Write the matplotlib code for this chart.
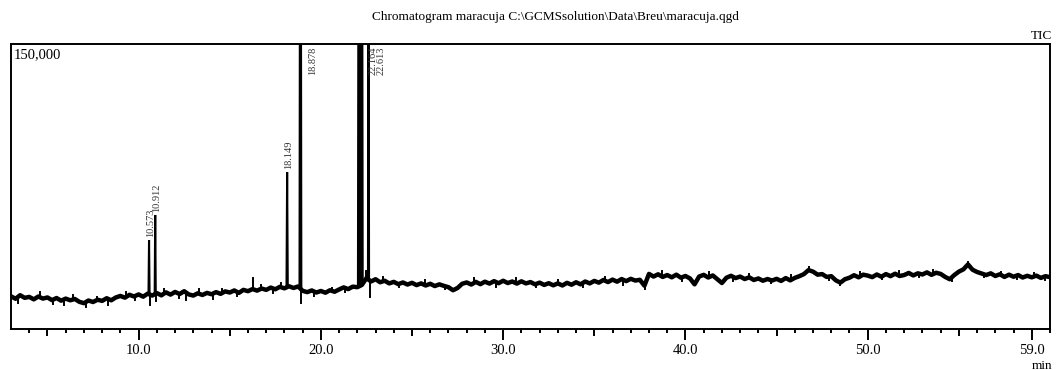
import matplotlib
matplotlib.use('Agg')
import matplotlib.pyplot as plt
import numpy as np

# baseline of the TIC trace, sampled every 0.25 min from 3.00 to 60.00 (x1000 counts)
t_start = 3.0
t_step = 0.25
baseline = [
    17.2, 15.9, 17.8, 16.4,   # 3
    16.9, 15.6, 17.1, 16.0,   # 4
    16.6, 15.2, 16.3, 14.9,   # 5
    16.0, 15.1, 15.8, 14.3,   # 6
    13.6, 15.0, 14.2, 15.4,   # 7
    14.8, 16.2, 15.1, 16.6,   # 8
    17.4, 16.5, 18.0, 17.1,   # 9
    18.2, 17.0, 18.6, 17.6,   # 10
    18.9, 17.7, 19.3, 18.1,   # 11
    19.5, 18.4, 19.9, 18.2,   # 12
    17.6, 18.8, 17.9, 19.0,   # 13
    18.3, 19.4, 18.5, 19.8,   # 14
    19.2, 20.3, 19.0, 20.6,   # 15
    19.9, 21.0, 20.2, 21.3,   # 16
    20.6, 21.8, 20.9, 22.2,   # 17
    21.4, 22.5, 21.6, 22.4,   # 18
    20.1, 19.4, 20.3, 19.2,   # 19
    20.0, 19.1, 20.4, 19.6,   # 20
    20.8, 21.9, 21.0, 22.3,   # 21
    22.0, 23.2, 26.8, 25.0,   # 22
    26.2, 24.6, 25.4, 24.0,   # 23
    24.8, 23.6, 24.5, 23.4,   # 24
    24.3, 23.1, 24.0, 22.9,   # 25
    23.8, 22.6, 23.5, 22.7,   # 26
    22.0, 20.4, 21.6, 23.8,   # 27
    24.5, 23.4, 24.8, 23.6,   # 28
    24.9, 23.9, 25.2, 24.1,   # 29
    25.4, 24.2, 25.0, 23.9,   # 30
    25.1, 24.0, 24.7, 23.5,   # 31
    24.4, 23.2, 24.1, 23.0,   # 32
    24.0, 22.9, 24.3, 23.3,   # 33
    24.6, 23.5, 25.0, 24.0,   # 34
    25.3, 24.4, 25.8, 24.7,   # 35
    26.0, 24.9, 26.3, 25.2,   # 36
    26.4, 25.5, 25.9, 22.8,   # 37
    29.0, 27.6, 28.8, 27.4,   # 38
    28.4, 27.2, 28.6, 27.0,   # 39
    27.9, 26.6, 23.5, 27.6,   # 40
    28.5, 27.1, 28.2, 26.2,   # 41
    24.2, 27.0, 28.0, 26.8,   # 42
    27.6, 26.3, 27.2, 25.8,   # 43
    26.6, 25.4, 26.3, 25.5,   # 44
    26.4, 25.3, 26.8, 25.6,   # 45
    26.9, 27.8, 28.9, 31.0,   # 46
    30.2, 28.6, 28.9, 27.4,   # 47
    27.8, 25.6, 24.4, 26.2,   # 48
    27.0, 28.3, 27.2, 28.6,   # 49
    28.1, 27.3, 28.7, 27.5,   # 50
    28.9, 27.8, 29.1, 27.9,   # 51
    28.4, 29.5, 28.2, 29.3,   # 52
    28.7, 29.8, 28.5, 29.6,   # 53
    29.0, 27.4, 26.2, 28.4,   # 54
    30.2, 31.4, 34.0, 31.2,   # 55
    30.0, 29.2, 28.4, 29.3,   # 56
    27.9, 28.8, 27.4, 28.6,   # 57
    27.5, 28.4, 27.1, 28.0,   # 58
    27.2, 28.1, 26.9, 27.8,   # 59
    27.3,                     # 60
]

# labelled peaks: retention time, apex height (x1000 counts), half width (min)
peak_times = [10.573, 10.912, 18.149, 18.878, 22.164, 22.613]
peak_heights = [46.8, 60.0, 82.6, 400.0, 900.0, 250.0]
peak_halfwidths = [0.03, 0.03, 0.035, 0.05, 0.13, 0.03]
peak_labels = ['10.573', '10.912', '18.149', '18.878', '22.164', '22.613']

# small unlabelled noise spikes (up and down)
spike_times = [10.62, 16.26, 18.93, 22.45, 22.70, 10.95, 5.9, 8.3, 12.6, 14.1,
               3.4, 4.6, 5.3, 6.4, 7.1, 7.7, 9.3, 9.8, 11.4, 12.2,
               13.3, 14.6, 15.4, 16.7, 17.4, 17.8, 19.6, 20.6, 21.3, 23.4,
               24.3, 25.7, 26.8, 28.4, 29.6, 30.7, 31.8, 33.0, 34.4, 35.6,
               36.6, 37.8, 38.7, 39.8, 41.3, 42.6, 43.5, 44.7, 45.8, 46.8,
               47.9, 48.5, 49.6, 50.8, 51.7, 52.8, 53.6, 54.6, 55.5, 56.4,
               57.3, 58.2, 59.1, 59.7]
spike_values = [12.8, 26.8, 13.6, 30.5, 17.0, 14.5, 12.4, 12.8, 15.2, 15.8,
                13.8, 19.5, 13.0, 17.9, 11.8, 16.8, 19.6, 15.3, 20.9, 16.3,
                20.8, 21.2, 17.4, 23.1, 19.0, 24.0, 17.6, 21.8, 19.4, 27.6,
                22.0, 25.8, 20.8, 26.6, 22.2, 26.9, 21.9, 25.9, 22.0, 27.6,
                23.4, 21.0, 30.6, 25.4, 29.9, 25.2, 28.9, 24.0, 28.4, 32.6,
                25.8, 23.0, 29.9, 26.2, 30.4, 27.2, 30.9, 25.3, 35.4, 27.4,
                30.0, 26.2, 29.4, 26.0]

y_top = 150.0

t_base = t_start + t_step * np.arange(len(baseline))
base = np.array(baseline)

plt.rcParams['font.family'] = ['Liberation Serif', 'DejaVu Serif']

fig = plt.figure(figsize=(10.56, 3.70), dpi=100)
ax = fig.add_axes([11 / 1056, 41 / 370, 1039 / 1056, 285 / 370])

# thick noisy baseline band
ax.plot(t_base, base, color='black', linewidth=3.2, solid_joinstyle='round')

# peaks drawn as thin filled spikes standing on the baseline
for t, h, w in zip(peak_times, peak_heights, peak_halfwidths):
    b0 = np.interp(t - w, t_base, base)
    b1 = np.interp(t + w, t_base, base)
    ax.fill([t - w, t, t + w], [b0, h, b1], facecolor='black',
            edgecolor='black', linewidth=1.5)
for t, v in zip(spike_times, spike_values):
    b = np.interp(t, t_base, base)
    ax.plot([t, t], [b, v], color='black', linewidth=1.4)

ax.set_xlim(3.0, 60.0)
ax.set_ylim(0, y_top)

for s in ax.spines.values():
    s.set_linewidth(1.4)

ax.set_yticks([])

major = [5, 10, 15, 20, 25, 30, 35, 40, 45, 50, 55, 59]
labels = ['%.1f' % m if (m % 10 == 0 or m == 59) else '' for m in major]
ax.set_xticks(major)
ax.set_xticklabels(labels, fontsize=10.5)
ax.set_xticks(np.arange(4, 61, 1), minor=True)
ax.tick_params(axis='x', which='major', direction='out', length=8, width=1.4, pad=3)
ax.tick_params(axis='x', which='minor', direction='out', length=3, width=1.4)
for m, tk in zip(major, ax.xaxis.get_major_ticks()):
    if not (m % 10 == 0 or m == 59):
        tk.tick1line.set_markersize(5)

# peak labels
for t, h, lab in zip(peak_times, peak_heights, peak_labels):
    if h < y_top:
        ax.annotate(lab, (t, h), xytext=(1, 2), textcoords='offset points',
                    rotation=90, ha='center', va='bottom', fontsize=7.5, color='#333333')
    else:
        ax.annotate(lab, (t, y_top), xytext=(9, -2), textcoords='offset points',
                    rotation=90, ha='center', va='top', fontsize=7.5, color='#333333')

ax.annotate('150,000', (0, 1), xycoords='axes fraction', xytext=(2, -3),
            textcoords='offset points', ha='left', va='top', fontsize=10.5)

fig.text(555 / 1056, 1 - 17 / 370,
         r'Chromatogram maracuja C:\GCMSsolution\Data\Breu\maracuja.qgd',
         ha='center', va='center', fontsize=9.5)
fig.text(1052 / 1056, 1 - 36 / 370, 'TIC', ha='right', va='center', fontsize=9.5)
fig.text(1052 / 1056, 1 - 366 / 370, 'min', ha='right', va='center', fontsize=9.5)

plt.savefig('out.png', dpi=100)
